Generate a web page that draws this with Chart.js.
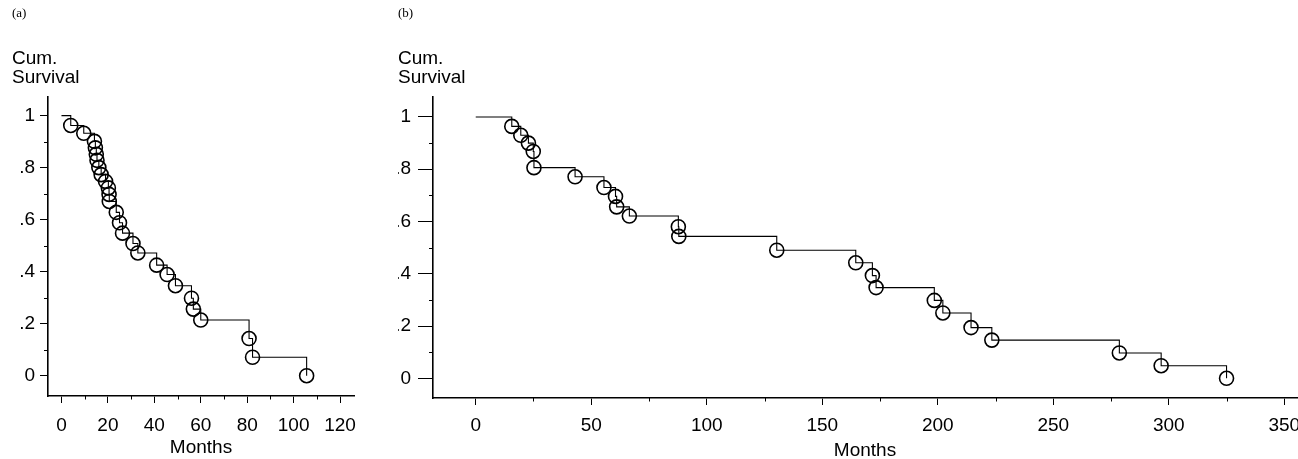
<!DOCTYPE html>
<html>
<head>
<meta charset="utf-8">
<script src="https://cdn.jsdelivr.net/npm/chart.js@4.4.1/dist/chart.umd.min.js"></script>
<style>
  html, body { margin: 0; padding: 0; background: #fff; overflow: hidden; width: 1298px; height: 459px; }
  #wrapA { position: absolute; left: 0; top: 0; width: 380px; height: 459px; }
  #wrapB { position: absolute; left: 385px; top: 0; width: 940px; height: 462px; }
</style>
</head>
<body>
<div id="wrapA"><canvas id="chartA"></canvas></div>
<div id="wrapB"><canvas id="chartB"></canvas></div>
<script>
// panel (a): event times and survival after each event
var monthsA = [4, 9.6, 14.2, 14.6, 15, 15.3, 16.1, 17.1, 19, 20.2, 20.5, 20.6, 23.6, 25, 26.3, 30.8, 32.9, 41, 45.5, 49.1, 56, 56.8, 60, 80.8, 82.3, 105.6];
var survA = [0.962, 0.932, 0.901, 0.876, 0.851, 0.828, 0.8, 0.773, 0.747, 0.722, 0.697, 0.67, 0.628, 0.588, 0.548, 0.508, 0.472, 0.425, 0.389, 0.346, 0.298, 0.256, 0.214, 0.143, 0.071, 0];

// panel (b)
var monthsB = [15.6, 19.5, 22.8, 24.9, 25.2, 43, 55.5, 60.5, 61, 66.5, 87.7, 87.9, 130.3, 164.5, 171.7, 173.3, 198.5, 202.2, 214.4, 223.4, 278.6, 296.7, 325];
var survB = [0.964, 0.93, 0.9, 0.868, 0.806, 0.771, 0.73, 0.696, 0.656, 0.621, 0.58, 0.543, 0.49, 0.442, 0.393, 0.347, 0.298, 0.25, 0.194, 0.146, 0.097, 0.048, 0];

var xTicksA = [0, 20, 40, 60, 80, 100, 120];
var xMinorA = [10, 30, 50, 70, 90, 110];
var xTicksB = [0, 50, 100, 150, 200, 250, 300, 350];
var xMinorB = [25, 75, 125, 175, 225, 275, 325];
var yTicks = [0, 0.2, 0.4, 0.6, 0.8, 1];
var yTickLabels = ['0', '.2', '.4', '.6', '.8', '1'];
var yMinor = [0.1, 0.3, 0.5, 0.7, 0.9];

var sans = "'Liberation Sans', Arial, Helvetica, sans-serif";
var serif = "'Liberation Serif', 'Times New Roman', serif";

// short unlabelled ticks between the labelled ones
function minorTicks(xVals, yVals, xLen, yLen) {
  return {
    id: 'minorTicks',
    afterDraw: function(chart) {
      var c = chart.ctx, a = chart.chartArea;
      var xs = chart.scales.x, ys = chart.scales.y;
      c.save();
      c.strokeStyle = '#000';
      c.lineWidth = 1;
      c.beginPath();
      xVals.forEach(function(v) {
        var px = Math.round(xs.getPixelForValue(v)) + 0.5;
        c.moveTo(px, a.bottom); c.lineTo(px, a.bottom + xLen);
      });
      yVals.forEach(function(v) {
        var py = Math.round(ys.getPixelForValue(v)) + 0.5;
        c.moveTo(a.left - yLen, py); c.lineTo(a.left, py);
      });
      c.stroke();
      c.restore();
    }
  };
}

function survivalChart(id, o) {
  var steps = [{x: 0, y: 1}];
  var events = [];
  for (var i = 0; i < o.months.length; i++) {
    steps.push({x: o.months[i], y: o.surv[i]});
    events.push({x: o.months[i], y: o.surv[i]});
  }
  return new Chart(document.getElementById(id), {
    type: 'scatter',
    data: {
      datasets: [{
        data: steps,
        showLine: true,
        stepped: 'before',
        borderColor: '#000',
        borderWidth: 1.1,
        pointRadius: 0
      }, {
        data: events,
        showLine: false,
        pointStyle: 'circle',
        pointRadius: 7,
        borderColor: '#000',
        borderWidth: 1.6,
        backgroundColor: 'rgba(0,0,0,0)'
      }]
    },
    options: {
      responsive: true,
      maintainAspectRatio: false,
      animation: false,
      events: [],
      layout: { padding: o.padding },
      plugins: {
        legend: { display: false },
        tooltip: { enabled: false },
        title: {
          display: true, text: o.panel, align: 'start', color: '#000',
          font: { family: serif, size: 13, weight: 'normal', lineHeight: 1.2 },
          padding: { top: 2, bottom: 28 }
        },
        subtitle: {
          display: true, text: ['Cum.', 'Survival'], align: 'start', color: '#000',
          font: { family: sans, size: 19, lineHeight: 1 },
          padding: { top: 0, bottom: 9 }
        }
      },
      scales: {
        x: {
          type: 'linear',
          min: o.xMin,
          max: o.xMax,
          afterBuildTicks: function(s) { s.ticks = o.xTicks.map(function(v) { return {value: v}; }); },
          afterFit: function(s) { s.height = o.xHeight; },
          border: { display: true, color: '#000', width: 1.6 },
          grid: { drawOnChartArea: false, drawTicks: true, tickLength: 7, color: '#000', tickColor: '#000', tickWidth: 1 },
          ticks: { color: '#000', font: { family: sans, size: 19, lineHeight: 1 }, padding: o.xPad, maxRotation: 0, autoSkip: false },
          title: { display: true, text: 'Months', color: '#000', font: { family: sans, size: 19, lineHeight: 1 }, padding: { top: 0, bottom: 2 } }
        },
        y: {
          type: 'linear',
          min: o.yMin,
          max: o.yMax,
          afterBuildTicks: function(s) { s.ticks = yTicks.map(function(v) { return {value: v}; }); },
          afterFit: function(s) { s.width = o.yWidth; },
          border: { display: true, color: '#000', width: 1.6 },
          grid: { drawOnChartArea: false, drawTicks: true, tickLength: o.yTickLen, color: '#000', tickColor: '#000', tickWidth: 1 },
          ticks: {
            color: '#000', font: { family: sans, size: 19, lineHeight: 1 }, padding: o.yPad, autoSkip: false,
            callback: function(v) { return yTickLabels[yTicks.indexOf(Math.round(v * 10) / 10)]; }
          }
        }
      }
    },
    plugins: [minorTicks(o.xMinor, yMinor, 3.5, 4)]
  });
}

window.onload = function() {
  survivalChart('chartA', {
    panel: '(a)', months: monthsA, surv: survA,
    xTicks: xTicksA, xMinor: xMinorA,
    xMin: -5.8, xMax: 126, yMin: -0.078, yMax: 1.073,
    padding: { left: 12, right: 26, top: 4, bottom: 0 },
    xHeight: 63, yWidth: 36, xPad: 13, yPad: 5, yTickLen: 8
  });
  survivalChart('chartB', {
    panel: '(b)', months: monthsB, surv: survB,
    xTicks: xTicksB, xMinor: xMinorB,
    xMin: -18.5, xMax: 355.5, yMin: -0.0755, yMax: 1.078,
    padding: { left: 13, right: 28, top: 4, bottom: 0 },
    xHeight: 64, yWidth: 35, xPad: 11, yPad: 7, yTickLen: 15
  });
};
</script>
</body>
</html>
